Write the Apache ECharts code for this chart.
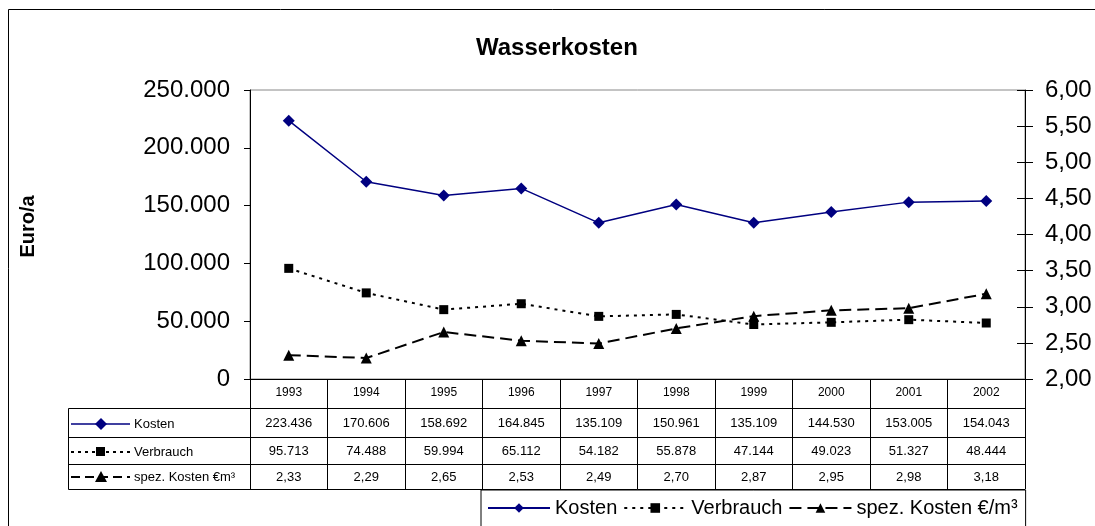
<!DOCTYPE html>
<html>
<head>
<meta charset="utf-8">
<script src="https://cdn.jsdelivr.net/npm/echarts@6/dist/echarts.min.js"></script>
<style>
html,body{margin:0;padding:0;background:#fff;}
#chart{width:1095px;height:526px;}
</style>
</head>
<body>
<div id="chart"></div>
<script>
// ---- data ----
var years = ['1993','1994','1995','1996','1997','1998','1999','2000','2001','2002'];
var kosten = [223436,170606,158692,164845,135109,150961,135109,144530,153005,154043];
var verbrauch = [95713,74488,59994,65112,54182,55878,47144,49023,51327,48444];
var spezKosten = [2.33,2.29,2.65,2.53,2.49,2.70,2.87,2.95,2.98,3.18];
var seriesNames = ['Kosten','Verbrauch','spez. Kosten €/m³'];
var tableRowLabels = ['Kosten','Verbrauch','spez. Kosten €m³'];
var leftTicks = {min:0, max:250000, interval:50000};
var rightTicks = {min:2, max:6, interval:0.5};

function fmtInt(v){ return Math.round(v).toString().replace(/\B(?=(\d{3})+(?!\d))/g,'.'); }
function fmtDec(v){ return v.toFixed(2).replace('.',','); }

var FONT = 'Liberation Sans, Arial, sans-serif';
var chart = echarts.init(document.getElementById('chart'), null, {renderer:'canvas'});

var GL = 250, GR = 70, GT = 90, GB = 147;

function tableAxis(offset, arr, fmt, margin){
  return {
    type:'category', data:years, position:'bottom', offset:offset, gridIndex:0,
    axisLine:{show:true, lineStyle:{color:'#000', width:1}},
    axisTick:{show:false},
    axisLabel:{show: !!arr, interval:0, margin:margin, fontSize:13, color:'#000', fontFamily:FONT,
      formatter:function(v, i){ return arr ? fmt(arr[i]) : ''; }},
    splitLine:{show:false}
  };
}

// label column graphics (table row headers)
var rowTop = [408, 437, 464], rowBot = 489;
var colL = 68;
var graphics = [
  {type:'rect', shape:{x:8.5, y:9.5, width:1200, height:600}, style:{fill:'none', stroke:'#000', lineWidth:1}, silent:true},
  {type:'rect', shape:{x:colL+0.5, y:rowTop[0]+0.5, width:GL-colL, height:rowBot-rowTop[0]}, style:{fill:'none', stroke:'#000', lineWidth:1}, silent:true},
  {type:'line', shape:{x1:colL, y1:rowTop[1]+0.5, x2:GL, y2:rowTop[1]+0.5}, style:{stroke:'#000', lineWidth:1}},
  {type:'line', shape:{x1:colL, y1:rowTop[2]+0.5, x2:GL, y2:rowTop[2]+0.5}, style:{stroke:'#000', lineWidth:1}}
];
var rowCenters = [424, 452, 477];
var styles = [
  {color:'#000080', dash:null, w:1.5},
  {color:'#000', dash:[3,4], w:2},
  {color:'#000', dash:[9,5], w:2}
];
for (var r=0;r<3;r++){
  var cy = rowCenters[r];
  graphics.push({type:'line', shape:{x1:71, y1:cy, x2:130, y2:cy},
    style:{stroke:styles[r].color, lineWidth:styles[r].w, lineDash:styles[r].dash}});
  if (r===0) graphics.push({type:'polygon', shape:{points:[[101,cy-6],[107,cy],[101,cy+6],[95,cy]]}, style:{fill:'#000080'}});
  if (r===1) graphics.push({type:'rect', shape:{x:96, y:cy-5, width:9, height:9}, style:{fill:'#000'}});
  if (r===2) graphics.push({type:'polygon', shape:{points:[[101,cy-6],[107,cy+5],[95,cy+5]]}, style:{fill:'#000'}});
  graphics.push({type:'text', style:{text:tableRowLabels[r], x:134, y:cy, textVerticalAlign:'middle', fontSize:13, fontFamily:FONT, fill:'#000'}});
}

var option = {
  animation:false,
  backgroundColor:'#fff',
  title:{text:'Wasserkosten', left:471, top:31, textStyle:{fontSize:24, fontWeight:'bold', color:'#000', fontFamily:FONT}},
  legend:{
    data:seriesNames, left:481, top:490, orient:'horizontal',
    borderColor:'#000', borderWidth:1, padding:[8,8,14,6],
    itemWidth:62, itemHeight:12, itemGap:6,
    textStyle:{fontSize:20, color:'#000', fontFamily:FONT}
  },
  grid:{left:GL, right:GR, top:GT, bottom:GB, show:true, borderColor:'#888', borderWidth:1, backgroundColor:'transparent'},
  xAxis:[
    {
      type:'category', data:years, boundaryGap:true, position:'bottom',
      axisLine:{show:true, lineStyle:{color:'#000', width:1}},
      axisTick:{show:true, length:110, lineStyle:{color:'#000', width:1}},
      axisLabel:{interval:0, margin:8, fontSize:12, color:'#000', fontFamily:FONT},
      splitLine:{show:false}
    },
    tableAxis(29, kosten, fmtInt, 9),
    tableAxis(58, verbrauch, fmtInt, 7.5),
    tableAxis(85, spezKosten, fmtDec, 7),
    tableAxis(110, null, null, 0)
  ],
  yAxis:[
    {
      type:'value', min:leftTicks.min, max:leftTicks.max, interval:leftTicks.interval, position:'left',
      name:'Euro/a', nameLocation:'middle', nameGap:212,
      nameTextStyle:{fontSize:20, fontWeight:'bold', color:'#000', fontFamily:FONT, padding:[0,0,0,16]},
      axisLine:{show:true, lineStyle:{color:'#000', width:1}},
      axisTick:{show:true, length:6, lineStyle:{color:'#000'}},
      axisLabel:{margin:20, fontSize:24, color:'#000', fontFamily:FONT, formatter:function(v){return fmtInt(v);}},
      splitLine:{show:false}
    },
    {
      type:'value', min:rightTicks.min, max:rightTicks.max, interval:rightTicks.interval, position:'right',
      axisLine:{show:true, lineStyle:{color:'#000', width:1}},
      axisTick:{show:true, length:8, lineStyle:{color:'#000'}},
      axisLabel:{margin:20, fontSize:24, color:'#000', fontFamily:FONT, formatter:function(v){return fmtDec(v);}},
      splitLine:{show:false}
    },
    {
      type:'value', min:rightTicks.min, max:rightTicks.max, interval:rightTicks.interval, position:'right',
      axisLine:{show:false},
      axisTick:{show:true, inside:true, length:8, lineStyle:{color:'#000'}},
      axisLabel:{show:false},
      splitLine:{show:false}
    }
  ],
  series:[
    {name:seriesNames[0], type:'line', data:kosten, xAxisIndex:0, yAxisIndex:0,
     symbol:'diamond', symbolSize:12, showSymbol:true,
     lineStyle:{color:'#000080', width:1.5}, itemStyle:{color:'#000080'}},
    {name:seriesNames[1], type:'line', data:verbrauch, xAxisIndex:0, yAxisIndex:0,
     symbol:'rect', symbolSize:9, showSymbol:true,
     lineStyle:{color:'#000', width:2, type:[3,5]}, itemStyle:{color:'#000'}},
    {name:seriesNames[2], type:'line', data:spezKosten, xAxisIndex:0, yAxisIndex:1,
     symbol:'triangle', symbolSize:11, showSymbol:true,
     lineStyle:{color:'#000', width:2, type:[12,6]}, itemStyle:{color:'#000'}}
  ],
  graphic:graphics
};
chart.setOption(option);
</script>
</body>
</html>
